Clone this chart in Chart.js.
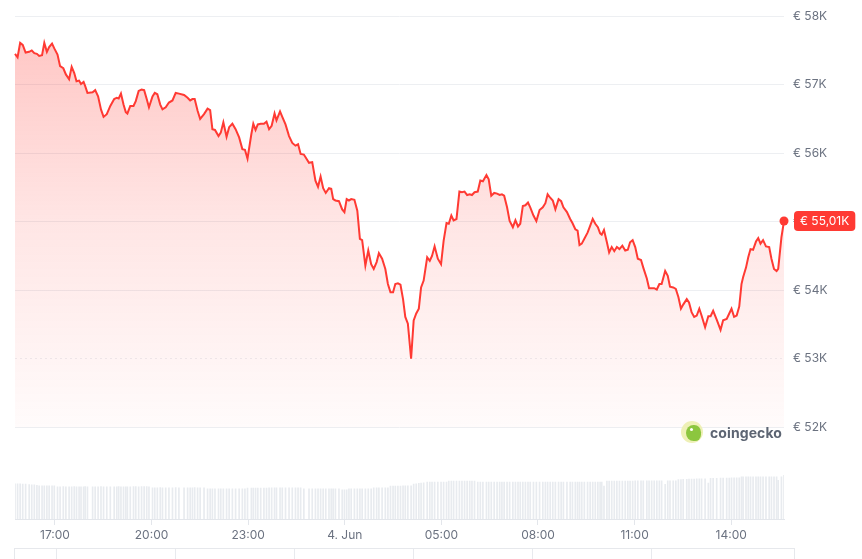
<!DOCTYPE html>
<html>
<head>
<meta charset="utf-8">
<script src="https://cdn.jsdelivr.net/npm/chart.js@4.4.1/dist/chart.umd.min.js"></script>
<style>
  html, body { margin: 0; padding: 0; background: #fff; }
  #wrap { position: relative; width: 862px; height: 559px; overflow: hidden; }
  #chart { position: absolute; left: 0; top: 0; }
  .navigator {
    position: absolute; left: 14px; top: 548px; width: 779px; height: 20px;
    border-top: 1px solid #e6e8ec; border-left: 1px solid #e6e8ec; border-right: 1px solid #e6e8ec;
    background: repeating-linear-gradient(90deg, transparent 0, transparent 118px, #e8eaee 118px, #e8eaee 119px);
    background-position: -77px 0;
  }
  .brand { position: absolute; left: 681px; top: 421px; display: flex; align-items: center; }
  .brand .logo { width: 22px; height: 22px; border-radius: 50%; background: #eef0b6; position: relative; overflow: hidden; }
  .brand .logo::after {
    content: ""; position: absolute; left: 5px; top: 4px; width: 15px; height: 16px;
    border-radius: 50% 45% 40% 50%; background: #8cc63f;
  }
  .brand .logo::before {
    content: ""; position: absolute; left: 9px; top: 7px; width: 3px; height: 3px;
    border-radius: 50%; background: #fff; z-index: 2;
  }
  .brand span { margin-left: 7px; font: 700 14px Inter, "Noto Sans", sans-serif; color: #5d6573; letter-spacing: 0.1px; }
</style>
</head>
<body>
<div id="wrap">
  <canvas id="chart"></canvas>
  <div class="brand"><div class="logo"></div><span>coingecko</span></div>
  <div class="navigator"></div>
</div>
<script>
// time of day in hours (values past 24 are on 4 June)
const hours = [
  15.76, 15.84, 15.92, 16.00, 16.09, 16.20, 16.28, 16.36, 16.44, 16.51,
  16.60, 16.67, 16.75, 16.82, 16.91, 16.98, 17.08, 17.16, 17.26, 17.34,
  17.44, 17.52, 17.60, 17.67, 17.75, 17.81, 17.89, 17.94, 18.01, 18.17,
  18.25, 18.34, 18.43, 18.51, 18.61, 18.72, 18.84, 18.92, 18.98, 19.05,
  19.13, 19.20, 19.25, 19.34, 19.44, 19.51, 19.60, 19.69, 19.77, 19.85,
  19.92, 20.03, 20.10, 20.18, 20.27, 20.34, 20.44, 20.54, 20.65, 20.75,
  20.85, 21.01, 21.12, 21.20, 21.27, 21.34, 21.43, 21.51, 21.63, 21.74,
  21.82, 21.89, 21.97, 22.08, 22.15, 22.23, 22.33, 22.41, 22.51, 22.61,
  22.72, 22.82, 22.90, 22.98, 23.10, 23.16, 23.23, 23.30, 23.39, 23.49,
  23.57, 23.65, 23.73, 23.82, 23.88, 23.99, 24.06, 24.16, 24.27, 24.37,
  24.47, 24.55, 24.63, 24.73, 24.89, 24.99, 25.09, 25.17, 25.25, 25.33,
  25.41, 25.51, 25.58, 25.64, 25.71, 25.82, 25.92, 25.99, 26.06, 26.13,
  26.20, 26.30, 26.39, 26.47, 26.54, 26.64, 26.73, 26.82, 26.90, 26.99,
  27.06, 27.16, 27.26, 27.34, 27.42, 27.50, 27.57, 27.65, 27.73, 27.81,
  27.88, 27.96, 28.06, 28.14, 28.22, 28.30, 28.37, 28.45, 28.56, 28.64,
  28.71, 28.79, 28.89, 28.99, 29.07, 29.16, 29.23, 29.31, 29.38, 29.47,
  29.56, 29.64, 29.72, 29.80, 29.88, 29.95, 30.03, 30.13, 30.21, 30.29,
  30.40, 30.47, 30.55, 30.64, 30.73, 30.81, 30.88, 30.95, 31.04, 31.12,
  31.22, 31.30, 31.38, 31.45, 31.53, 31.61, 31.69, 31.76, 31.86, 31.95,
  32.05, 32.15, 32.23, 32.30, 32.38, 32.46, 32.54, 32.64, 32.72, 32.79,
  32.90, 33.00, 33.07, 33.16, 33.23, 33.29, 33.36, 33.44, 33.54, 33.62,
  33.70, 33.78, 33.86, 33.93, 33.98, 34.05, 34.14, 34.21, 34.29, 34.37,
  34.45, 34.53, 34.62, 34.71, 34.79, 34.86, 34.94, 35.02, 35.10, 35.20,
  35.27, 35.38, 35.45, 35.53, 35.61, 35.69, 35.77, 35.84, 35.95, 36.03,
  36.10, 36.20, 36.28, 36.36, 36.44, 36.51, 36.62, 36.69, 36.77, 36.85,
  36.93, 37.01, 37.08, 37.19, 37.29, 37.36, 37.44, 37.55, 37.67, 37.75,
  37.86, 37.94, 38.01, 38.09, 38.17, 38.25, 38.32, 38.37, 38.46, 38.53,
  38.60, 38.68, 38.77, 38.84, 38.91, 38.99, 39.08, 39.18, 39.25, 39.33,
  39.41, 39.46, 39.56, 39.64
];

// BTC price in EUR
const prices = [
  57450, 57400, 57610, 57580, 57470, 57480, 57500, 57460, 57450, 57420,
  57430, 57610, 57480, 57550, 57600, 57530, 57440, 57270, 57240, 57150,
  57080, 57260, 57170, 57050, 57060, 57010, 57040, 56980, 56880, 56890,
  56920, 56830, 56640, 56530, 56570, 56690, 56790, 56810, 56800, 56870,
  56710, 56600, 56580, 56690, 56690, 56760, 56910, 56930, 56920, 56790,
  56670, 56830, 56880, 56860, 56710, 56640, 56670, 56740, 56770, 56880,
  56870, 56850, 56810, 56770, 56790, 56790, 56620, 56500, 56570, 56650,
  56630, 56350, 56340, 56250, 56300, 56450, 56240, 56380, 56430, 56350,
  56230, 56060, 56050, 55920, 56280, 56430, 56340, 56420, 56430, 56430,
  56460, 56350, 56400, 56580, 56480, 56610, 56530, 56420, 56250, 56150,
  56110, 56130, 55990, 55980, 55860, 55870, 55600, 55510, 55660, 55490,
  55420, 55490, 55480, 55330, 55310, 55300, 55180, 55140, 55330, 55310,
  55330, 55320, 55160, 54750, 54730, 54360, 54580, 54380, 54310, 54410,
  54540, 54460, 54310, 54090, 53970, 53970, 54090, 54100, 54080, 53870,
  53610, 53510, 53000, 53560, 53660, 53730, 54040, 54140, 54480, 54430,
  54500, 54640, 54460, 54380, 54720, 54980, 54970, 55090, 55020, 55040,
  55440, 55430, 55440, 55390, 55400, 55390, 55430, 55440, 55600, 55590,
  55680, 55620, 55380, 55420, 55410, 55390, 55400, 55380, 55210, 55010,
  54920, 55020, 54930, 54970, 55230, 55240, 55280, 55210, 55090, 55010,
  55170, 55210, 55270, 55400, 55350, 55310, 55180, 55330, 55300, 55210,
  55140, 55040, 54980, 54890, 54870, 54660, 54680, 54750, 54840, 54940,
  55040, 54970, 54920, 54830, 54810, 54880, 54700, 54550, 54630, 54570,
  54630, 54600, 54650, 54580, 54590, 54700, 54730, 54630, 54460, 54440,
  54330, 54170, 54030, 54030, 54030, 54010, 54090, 54090, 54280, 54210,
  54050, 54040, 54020, 53900, 53730, 53790, 53870, 53820, 53680, 53610,
  53630, 53730, 53630, 53460, 53620, 53620, 53700, 53570, 53420, 53560,
  53580, 53660, 53730, 53610, 53630, 53760, 54090, 54190, 54330, 54480,
  54600, 54590, 54710, 54760, 54680, 54730, 54640, 54630, 54460, 54310,
  54280, 54310, 54770, 55010
];

// traded volume (bn EUR, rolling)
const volumes = [
  35.3, 35.3, 35.3, 35.0, 35.0, 34.5, 34.3, 34.3, 33.8, 33.3,
  33.3, 33.3, 33.3, 33.3, 33.3, 33.3, 32.2, 32.2, 32.5, 32.2,
  32.2, 32.2, 32.5, 32.2, 32.2, 32.2, 32.2, 32.5, 32.2, 32.2,
  32.2, 32.2, 32.5, 32.2, 32.2, 32.2, 32.2, 32.2, 32.5, 32.2,
  32.2, 32.2, 32.2, 32.2, 32.5, 32.5, 32.2, 32.5, 32.5, 32.5,
  32.2, 31.3, 31.3, 31.3, 31.5, 31.3, 31.3, 31.3, 31.3, 31.5,
  31.3, 31.3, 31.3, 31.3, 31.3, 31.5, 31.3, 31.3, 31.3, 30.2,
  30.2, 30.2, 30.2, 30.2, 30.2, 30.2, 30.2, 30.2, 30.2, 30.2,
  30.2, 30.2, 30.2, 31.0, 31.0, 31.0, 31.0, 31.0, 31.0, 31.0,
  31.0, 31.3, 31.3, 31.3, 31.3, 31.3, 31.3, 31.3, 31.3, 31.3,
  31.3, 31.3, 31.3, 30.3, 30.3, 30.3, 30.3, 30.3, 30.3, 30.3,
  30.3, 30.3, 30.3, 30.3, 30.3, 30.3, 29.3, 29.3, 29.3, 30.3,
  30.3, 30.3, 30.3, 30.3, 30.3, 30.3, 30.3, 30.3, 31.3, 31.3,
  31.3, 31.3, 31.3, 31.3, 33.0, 33.0, 33.0, 33.0, 33.0, 33.3,
  33.3, 33.3, 33.3, 35.0, 35.3, 35.7, 36.0, 36.3, 37.0, 37.0,
  37.0, 37.0, 37.0, 37.0, 37.0, 37.0, 38.0, 38.0, 38.0, 38.0,
  38.0, 38.0, 38.0, 38.0, 38.0, 38.0, 38.0, 37.0, 37.0, 37.0,
  37.0, 37.0, 37.0, 37.0, 37.0, 37.0, 37.0, 37.0, 37.0, 37.0,
  37.0, 37.0, 37.0, 37.0, 37.0, 37.0, 37.0, 37.0, 37.0, 37.0,
  37.0, 37.0, 37.0, 37.0, 37.0, 37.0, 37.0, 37.0, 37.0, 37.0,
  37.0, 37.0, 37.0, 37.0, 37.0, 37.0, 37.0, 37.0, 37.0, 37.0,
  37.0, 37.0, 37.0, 37.0, 37.0, 33.0, 38.0, 38.0, 38.0, 38.0,
  38.0, 38.0, 38.0, 38.0, 38.0, 38.0, 38.0, 38.3, 38.3, 38.3,
  38.3, 38.3, 38.3, 38.3, 38.3, 38.3, 38.3, 38.3, 34.7, 38.3,
  38.3, 38.3, 38.3, 39.5, 39.5, 39.7, 39.7, 40.0, 40.0, 40.0,
  40.3, 40.3, 40.3, 40.3, 36.0, 40.7, 40.7, 40.7, 41.0, 41.0,
  41.0, 41.0, 41.3, 41.3, 41.3, 41.3, 42.3, 42.3, 42.3, 42.3,
  42.3, 42.3, 42.3, 42.3, 42.3, 42.3, 42.3, 42.3, 42.3, 42.3,
  42.3, 38.7, 42.3, 43.7
];

const priceTicks = [52000, 53000, 54000, 55000, 56000, 57000, 58000];
const timeTicks = [17, 20, 23, 26, 29, 32, 35, 38];
const timeLabels = ['17:00', '20:00', '23:00', '4. Jun', '05:00', '08:00', '11:00', '14:00'];

const RED = '#ff3a33';
const GRID = '#edeff2';

Chart.defaults.font.family = 'Inter, "Noto Sans", sans-serif';
Chart.defaults.font.size = 12;
Chart.defaults.color = '#6b7280';

const priceLine = prices.map((p, i) => ({ x: hours[i], y: p }));
const volumeBars = volumes.map((v, i) => ({ x: hours[i], y: v }));

// red box with the last price on the right axis
const lastPriceTag = {
  id: 'lastPriceTag',
  afterDraw(chart) {
    const last = prices[prices.length - 1];
    const py = chart.scales.y.getPixelForValue(last);
    const text = '€ ' + (last / 1000).toFixed(2).replace('.', ',') + 'K';
    const c = chart.ctx;
    c.save();
    c.font = '12px Inter, "Noto Sans", sans-serif';
    const w = c.measureText(text).width + 12;
    const x0 = chart.chartArea.right + 10;
    c.fillStyle = RED;
    c.beginPath();
    c.roundRect(x0, py - 10, w, 20, 4);
    c.fill();
    c.fillStyle = '#fff';
    c.textBaseline = 'middle';
    c.fillText(text, x0 + 6, py + 0.5);
    c.restore();
  }
};

const canvas = document.getElementById('chart');
canvas.style.width = '862px';
canvas.style.height = '559px';

new Chart(canvas, {
  data: {
    datasets: [{
      type: 'line',
      data: priceLine,
      yAxisID: 'y',
      borderColor: RED,
      borderWidth: 2,
      tension: 0,
      clip: 10,
      pointRadius: (ctx) => ctx.dataIndex === prices.length - 1 ? 4.5 : 0,
      pointBackgroundColor: RED,
      pointBorderWidth: 0,
      fill: { value: 52000 },
      backgroundColor: (ctx) => {
        const chart = ctx.chart;
        if (!chart.chartArea || !chart.scales.y) return 'rgba(255,58,51,0.15)';
        const top = chart.scales.y.getPixelForValue(58000);
        const bottom = chart.scales.y.getPixelForValue(52000);
        const g = chart.ctx.createLinearGradient(0, top, 0, bottom);
        g.addColorStop(0, 'rgba(255,58,51,0.30)');
        g.addColorStop(0.5, 'rgba(255,58,51,0.13)');
        g.addColorStop(1, 'rgba(255,58,51,0.02)');
        return g;
      },
      order: 1
    }, {
      type: 'bar',
      data: volumeBars,
      yAxisID: 'v',
      backgroundColor: '#e8ebef',
      barThickness: 1,
      order: 2
    }]
  },
  options: {
    responsive: false,
    animation: false,
    layout: { padding: { left: 15, top: 15, right: 0, bottom: 0 } },
    plugins: { legend: { display: false }, tooltip: { enabled: false } },
    scales: {
      x: {
        type: 'linear',
        offset: false,
        min: hours[0],
        max: hours[hours.length - 1],
        afterBuildTicks: (axis) => { axis.ticks = timeTicks.map(v => ({ value: v })); },
        afterFit: (axis) => { axis.height = 40; },
        ticks: {
          autoSkip: false,
          maxRotation: 0,
          padding: 3,
          color: '#6b7280',
          callback: (value, index) => timeLabels[index]
        },
        grid: { drawOnChartArea: false, offset: false, tickLength: 6, color: '#e3e6eb' },
        border: { display: true, color: '#e3e6eb' }
      },
      y: {
        type: 'linear',
        position: 'right',
        min: 50660,
        max: 58000,
        afterBuildTicks: (axis) => { axis.ticks = priceTicks.map(v => ({ value: v })); },
        afterFit: (axis) => { axis.width = 78; },
        ticks: {
          padding: 9,
          color: '#6b7280',
          callback: (value) => '€ ' + value / 1000 + 'K'
        },
        grid: { drawTicks: false, color: GRID, lineWidth: 1 },
        border: {
          display: false,
          dash: (ctx) => (ctx.tick && ctx.tick.value === 53000) ? [2, 3] : []
        }
      },
      v: {
        type: 'linear',
        position: 'left',
        display: false,
        min: 0,
        max: 504
      }
    }
  },
  plugins: [lastPriceTag]
});
</script>
</body>
</html>
